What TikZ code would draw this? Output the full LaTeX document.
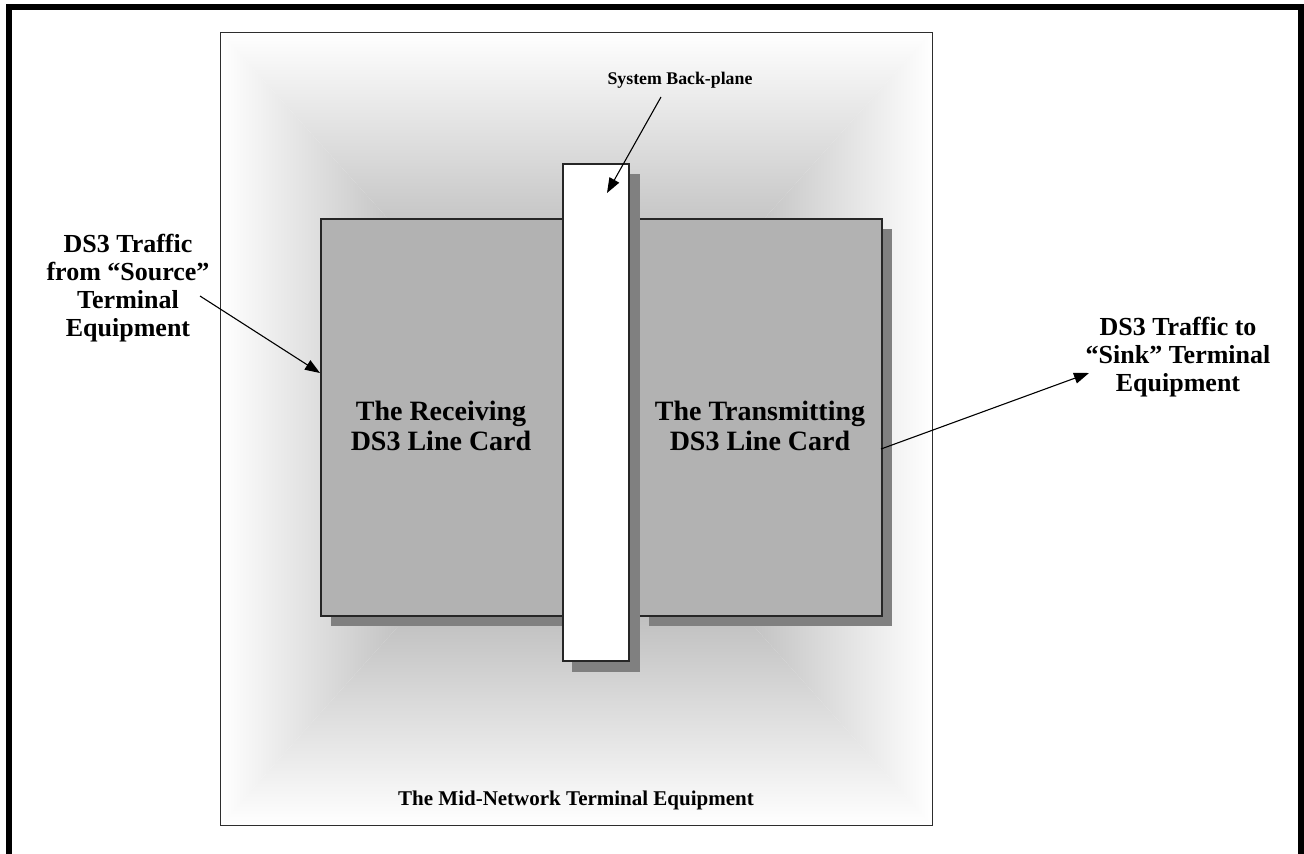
\documentclass[tikz,border=0pt]{standalone}
\usepackage{fontspec}
\setmainfont{Liberation Serif}
\usetikzlibrary{arrows.meta}
\definecolor{midgray}{RGB}{135,135,135}
\definecolor{cardgray}{RGB}{178,178,178}
\definecolor{shadowgray}{RGB}{128,128,128}
\definecolor{edgegray}{RGB}{45,45,45}
\begin{document}
\begin{tikzpicture}[x=1pt,y=-1pt,
  outerbox/.style={draw=edgegray, line width=1.3pt},
  cardbox/.style={draw=black!85, line width=1.5pt, fill=cardgray, inner sep=0pt, anchor=north west},
  shadowbox/.style={fill=shadowgray, draw=none, inner sep=0pt, anchor=north west},
  planebox/.style={draw=black!85, line width=1.5pt, fill=white, inner sep=0pt, anchor=north west},
  lbl/.style={align=center, inner sep=0pt, font=\bfseries\fontsize{26}{28}\selectfont},
  cardlbl/.style={align=center, inner sep=0pt, font=\bfseries\fontsize{28}{30}\selectfont},
  conn/.style={line width=1.1pt, -{Triangle[length=15pt,width=11pt]}}]
\useasboundingbox (0,0) rectangle (1304,854);
\fill[white] (0,0) rectangle (1304,854);
% frame (open at bottom)
\draw[line width=6pt] (9,854) -- (9,7) -- (1301,7) -- (1301,854);
% box gradient of the mid-network equipment
\coordinate (ctr) at (576,428);
\shade[top color=white, bottom color=midgray] (220,32) -- (932,32) -- (ctr) -- cycle;
\shade[top color=midgray, bottom color=white] (220,825) -- (932,825) -- (ctr) -- cycle;
\shade[left color=white, right color=midgray] (220,32) -- (220,825) -- (ctr) -- cycle;
\shade[left color=midgray, right color=white] (932,32) -- (932,825) -- (ctr) -- cycle;
\node[outerbox, inner sep=0pt, minimum width=712pt, minimum height=793pt, anchor=north west] (mid) at (220,32) {};
% shadows
\node[shadowbox, minimum width=242pt, minimum height=397pt] (rxs) at (331,229) {};
\node[shadowbox, minimum width=243pt, minimum height=397pt] (txs) at (649,229) {};
% cards
\node[cardbox, minimum width=250pt, minimum height=397pt] (rx) at (320,218) {};
\node[cardbox, minimum width=243pt, minimum height=397pt] (tx) at (638,218) {};
% backplane
\node[shadowbox, minimum width=68pt, minimum height=498pt] (bps) at (572,174) {};
\node[planebox, minimum width=66pt, minimum height=497pt] (bp) at (562,163) {};
% labels
\node[cardlbl] (rxl) at (441,426) {The Receiving\\DS3 Line Card};
\node[cardlbl] (txl) at (760,426) {The Transmitting\\DS3 Line Card};
\node[lbl] (src) at (128,288) {DS3 Traffic\\from “Source”\\Terminal\\Equipment};
\node[lbl] (snk) at (1178,357) {DS3 Traffic to\\“Sink” Terminal\\Equipment};
\node[inner sep=0pt, font=\bfseries\fontsize{17.8}{20}\selectfont] (bpl) at (680,80) {System Back-plane};
\node[inner sep=0pt, font=\bfseries\fontsize{21}{24}\selectfont] (midl) at (576,800) {The Mid-Network Terminal Equipment};
% connectors
\coordinate (srcTail) at (200,296);
\coordinate (rxIn) at (320,373);
\coordinate (txOut) at (881,449);
\coordinate (snkTip) at (1089,373);
\coordinate (bplTail) at (661,97);
\coordinate (bpTip) at (607,193);
\draw[conn] (srcTail) -- (rxIn);
\draw[conn] (txOut) -- (snkTip);
\draw[conn] (bplTail) -- (bpTip);
\end{tikzpicture}
\end{document}
